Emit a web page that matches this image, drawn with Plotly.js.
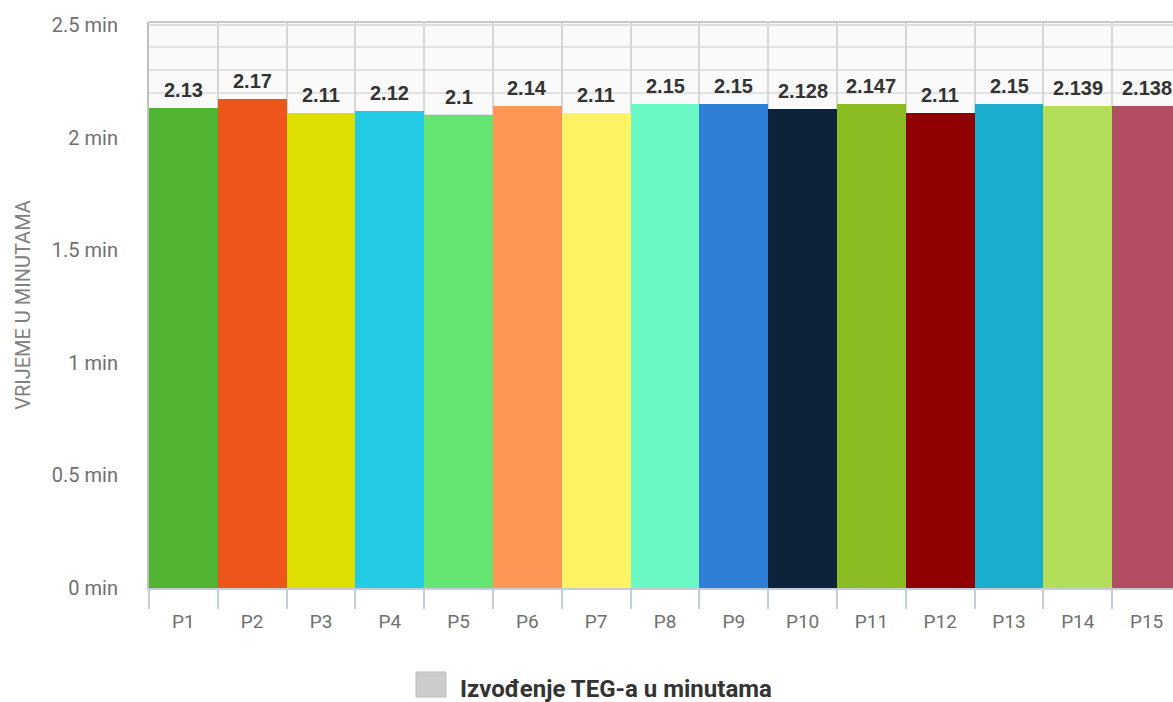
<!DOCTYPE html>
<html>
<head>
<meta charset="utf-8">
<script src="https://cdn.plot.ly/plotly-3.0.1.min.js"></script>
<style>
html,body{margin:0;padding:0;overflow:hidden;background:#fff;width:1173px;height:702px;}
#chart{width:1190px;height:702px;}
</style>
</head>
<body>
<div id="chart"></div>
<script>
const categories = ["P1","P2","P3","P4","P5","P6","P7","P8","P9","P10","P11","P12","P13","P14","P15"];
const values = [2.13,2.17,2.11,2.12,2.1,2.14,2.11,2.15,2.15,2.128,2.147,2.11,2.15,2.139,2.138];
const valueLabels = ["2.13","2.17","2.11","2.12","2.1","2.14","2.11","2.15","2.15","2.128","2.147","2.11","2.15","2.139","2.138"];
const barColors = ["#50b432","#ed561b","#dddf00","#24cbe5","#64e572","#ff9655","#fff263","#6af9c4","#2f7ed8","#0d233a","#8bbc21","#910000","#1aadce","#b2de5a","#b24e64"];
const yTickValues = [0,0.5,1,1.5,2,2.5];
const yTickLabels = ["0 min","0.5 min","1 min","1.5 min","2 min","2.5 min"];
const seriesName = "Izvođenje TEG-a u minutama";
const yTitle = "VRIJEME U MINUTAMA";

const trace = {
  type: "bar",
  x: categories,
  y: values,
  cliponaxis: false,
  marker: {color: barColors, line: {width: 0}},
  showlegend: false,
  hoverinfo: "x+y"
};

const labelAnnotations = categories.map((c, i) => ({
  x: c, y: values[i], xref: "x", yref: "y",
  text: valueLabels[i], showarrow: false,
  xanchor: "center", yanchor: "bottom", yshift: 5,
  font: {family: "Liberation Sans, Arial, sans-serif", size: 20, color: "#333333", weight: "bold"}
}));

const layout = {
  width: 1190,
  height: 702,
  margin: {l: 149, r: 9, t: 22, b: 114},
  paper_bgcolor: "#ffffff",
  plot_bgcolor: "#fafafa",
  bargap: 0,
  showlegend: false,
  font: {family: "Roboto, sans-serif", color: "#707070"},
  xaxis: {
    type: "category",
    range: [-0.5, 14.5],
    tickson: "boundaries",
    ticks: "outside",
    ticklen: 19,
    tickwidth: 2,
    tickcolor: "#c5cdd8",
    ticklabelstandoff: 15,
    showline: true,
    linecolor: "#c5cdd8",
    linewidth: 2,
    showgrid: true,
    gridcolor: "#d6d6d6",
    gridwidth: 2,
    tickfont: {family: "Roboto, sans-serif", size: 19, color: "#707070"},
    fixedrange: true
  },
  yaxis: {
    range: [0, 2.513],
    tickvals: yTickValues,
    ticktext: yTickLabels,
    ticks: "",
    ticklabelstandoff: 25,
    showline: true,
    linecolor: "#c0c0c0",
    linewidth: 2,
    showgrid: true,
    gridcolor: "#dedede",
    gridwidth: 2,
    zeroline: false,
    minor: {dtick: 0.1, showgrid: true, gridcolor: "#e2e2e2", gridwidth: 2, ticks: ""},
    tickfont: {family: "Roboto, sans-serif", size: 20, color: "#707070"},
    title: {text: yTitle, font: {family: "Roboto, sans-serif", size: 20, color: "#808080"}, standoff: 16},
    fixedrange: true
  },
  shapes: [
    {type: "line", xref: "paper", yref: "paper", x0: 0, x1: 1, y0: 1, y1: 1,
     line: {color: "#c8c8c8", width: 2}},
    {type: "rect", xref: "paper", yref: "paper", x0: (416-149)/1032, x1: (446-149)/1032, y0: (588-697)/566, y1: (588-672)/566,
     fillcolor: "#cccccc", line: {color: "#bdbdbd", width: 1}}
  ],
  annotations: labelAnnotations.concat([
    {xref: "paper", yref: "paper", x: (458-149)/1032, y: (588-689)/566, xanchor: "left", yanchor: "middle",
     text: "<b>" + seriesName + "</b>", showarrow: false,
     font: {family: "Roboto, sans-serif", size: 24, color: "#333333"}}
  ])
};

Plotly.newPlot("chart", [trace], layout, {displayModeBar: false, staticPlot: true});
</script>
</body>
</html>
